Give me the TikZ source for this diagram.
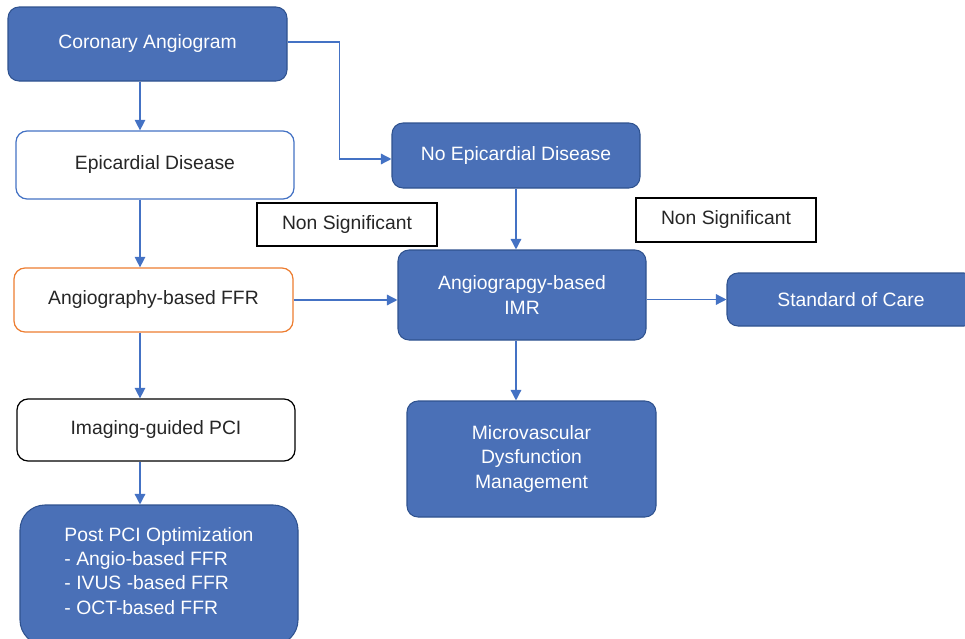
\documentclass[tikz,border=0pt]{standalone}
\usepackage{fontspec}
\setmainfont{Liberation Sans}
\usepackage{tikz}
\usetikzlibrary{arrows.meta,positioning}

\definecolor{boxblue}{HTML}{4A70B7}
\definecolor{edgeblue}{HTML}{2F528F}
\definecolor{lineblue}{HTML}{4472C4}
\definecolor{boxorange}{HTML}{ED7D31}

\tikzset{
  base/.style={rounded corners=11*0.02cm,inner sep=0pt,align=center,
    font=\fontsize{11}{13.7}\selectfont},
  filled/.style={base,fill=boxblue,draw=edgeblue,line width=.6pt,text=white},
  plain/.style={base,fill=white,draw=#1,line width=.7pt,text=black!85},
  tag/.style={draw=black,line width=1pt,sharp corners,inner sep=0pt,
    font=\fontsize{11}{13.7}\selectfont,text=black!85},
  arr/.style={draw=lineblue,line width=.8pt,
    -{Triangle[width=6pt,length=6pt]}}
}

\begin{document}
\begin{tikzpicture}[x=0.02cm,y=-0.02cm]
    \useasboundingbox (0,0) rectangle (965,639);
    \clip (0,0) rectangle (965,639);

    % left column
    \node[filled,minimum width=279*0.02cm,minimum height=74*0.02cm] (cor) at (147.5,44) {Coronary Angiogram};
    \node[plain=lineblue,minimum width=278*0.02cm,minimum height=68*0.02cm] (epi) at (155,165) {Epicardial Disease};
    \node[plain=boxorange,minimum width=279*0.02cm,minimum height=64*0.02cm] (ffr) at (153.5,300) {Angiography-based FFR};
    \node[plain=black,minimum width=278*0.02cm,minimum height=62*0.02cm] (img) at (156,430) {Imaging-guided PCI};
    \node[filled,rounded corners=25*0.02cm,minimum width=278*0.02cm,minimum height=140*0.02cm] (post) at (159,575) {};
    \node[align=left,text=white,font=\fontsize{11}{13.7}\selectfont] (posttxt) at (159,571)
      {Post PCI Optimization\\- Angio-based FFR\\- IVUS -based FFR\\- OCT-based FFR};

    % right part
    \node[filled,minimum width=248*0.02cm,minimum height=65*0.02cm] (noepi) at (516,155.5) {No Epicardial Disease};
    \node[filled,minimum width=248*0.02cm,minimum height=90*0.02cm] (imr) at (522,295) {Angiograpgy-based\\IMR};
    \node[filled,minimum width=248*0.02cm,minimum height=53*0.02cm] (soc) at (851,299.5) {Standard of Care};
    \node[filled,minimum width=249*0.02cm,minimum height=116*0.02cm] (micro) at (531.5,459) {Microvascular\\Dysfunction\\Management};

    \node[tag,minimum width=180*0.02cm,minimum height=43*0.02cm] (ns1) at (347,224.5) {Non Significant};
    \node[tag,minimum width=180*0.02cm,minimum height=44*0.02cm] (ns2) at (726,220) {Non Significant};

    \coordinate (spine) at (140,0);

    \draw[arr] (cor.south -| spine) -- (epi.north -| spine);
    \draw[arr] (epi.south -| spine) -- (ffr.north -| spine);
    \draw[arr] (ffr.south -| spine) -- (img.north -| spine);
    \draw[arr] (img.south -| spine) -- (post.north -| spine);
    \draw[arr] ([yshift=2*0.02cm]cor.east) -- ++(52,0) |- ([yshift=-3.5*0.02cm]noepi.west);
    \draw[arr] (ffr.east) -- (ffr.east -| imr.west);
    \draw[arr] (noepi.south) -- (imr.north -| noepi.south);
    \draw[arr] (imr.east |- soc.west) -- (soc.west);
    \draw[arr] (imr.south -| noepi.south) -- (micro.north -| noepi.south);
\end{tikzpicture}
\end{document}
